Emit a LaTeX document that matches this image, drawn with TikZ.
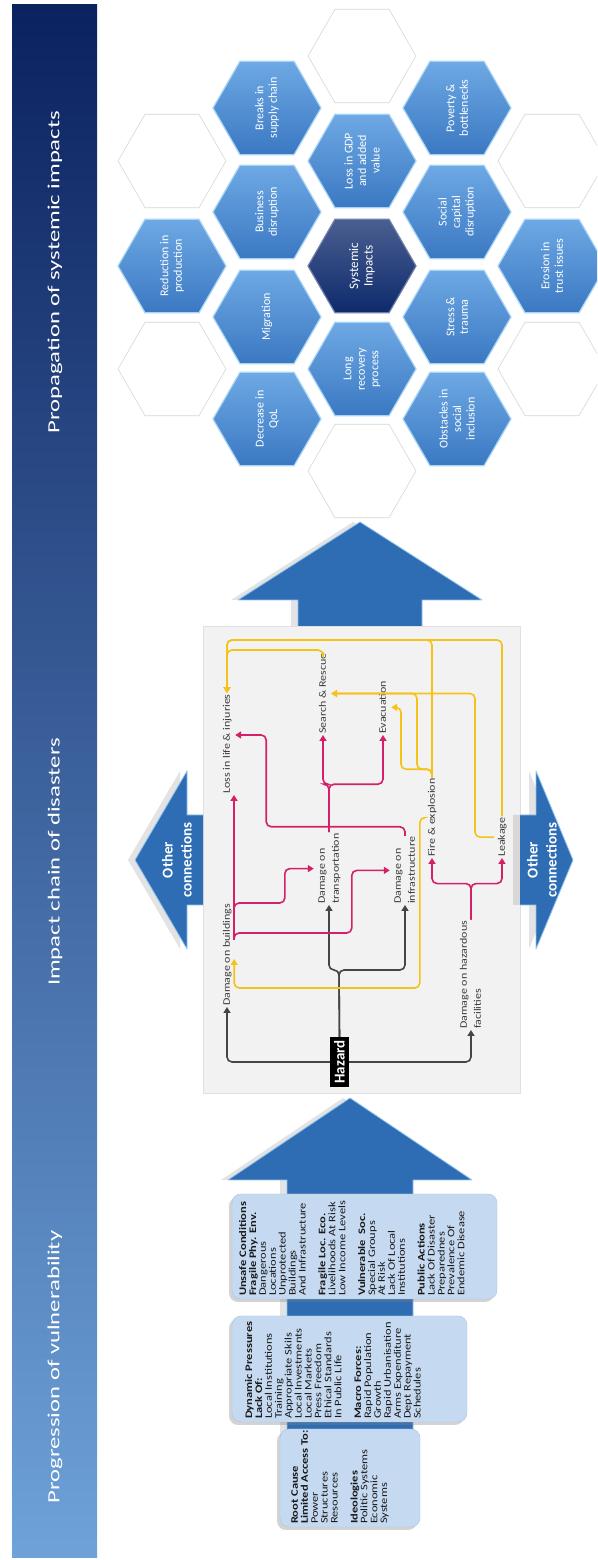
\documentclass[tikz,border=0pt]{standalone}
\usepackage{fontspec}
\usepackage{graphicx}
\setmainfont{Carlito}
\usetikzlibrary{arrows.meta,shapes.geometric,shadows}

\definecolor{bandlo}{HTML}{6EA2D9}
\definecolor{bandhi}{HTML}{0B2260}
\definecolor{arrowblue}{HTML}{2E6DB4}
\definecolor{arrowedge}{HTML}{8EC3F0}
\definecolor{boxfill}{HTML}{C5D9F1}
\definecolor{boxline}{HTML}{A9C4E4}
\definecolor{panelgray}{HTML}{F2F2F2}
\definecolor{paneledge}{HTML}{E0E0E0}
\definecolor{chaintext}{HTML}{3C3C3C}
\definecolor{hzline}{HTML}{454545}
\definecolor{pinkline}{HTML}{D61F69}
\definecolor{yellowline}{HTML}{F5C318}
\definecolor{hexhi}{HTML}{6EA9E4}
\definecolor{hexlo}{HTML}{3A78C2}
\definecolor{hexedge}{HTML}{A8D4F5}
\definecolor{hexdark}{HTML}{0E2A6C}
\definecolor{hexgrey}{HTML}{D6D6D6}

\newcommand{\widetext}[2]{\scalebox{#1}[1]{\begin{tabular}{@{}l@{}}#2\end{tabular}}}

\tikzstyle{band}=[top color=bandhi,bottom color=bandlo]
\tikzstyle{bandtext}=[text=white,font={\fontsize{17}{20}\selectfont}]
\tikzstyle{bigarrow}=[fill=arrowblue,draw=arrowedge,line width=0.8pt,line join=round,drop shadow={shadow xshift=-7pt,shadow yshift=0pt,opacity=0.22}]
\tikzstyle{othertext}=[text=white,align=center,font={\bfseries\fontsize{15}{19}\selectfont}]
\tikzstyle{vbox}=[draw=boxline,fill=boxfill,rounded corners=9pt,drop shadow={shadow xshift=-3pt,shadow yshift=-3pt,opacity=0.35}]
\tikzstyle{vtext}=[anchor=north west,inner sep=0,text=black!90,font={\fontsize{10}{9.9}\selectfont}]
\tikzstyle{panel}=[fill=panelgray,draw=paneledge,line width=0.6pt]
\tikzstyle{chain}=[inner sep=1pt,anchor=west,text=chaintext,font={\fontsize{10}{14}\selectfont}]
\tikzstyle{hazard}=[fill=black,text=white,inner sep=2pt,minimum width=50,minimum height=19,font={\bfseries\fontsize{15}{15}\selectfont}]
\tikzstyle{blk}=[draw=hzline,line width=1.6pt,rounded corners=5pt,-{Triangle[length=6pt,width=7pt]}]
\tikzstyle{pnk}=[blk,draw=pinkline]
\tikzstyle{ylw}=[blk,draw=yellowline]
\tikzstyle{hexwhite}=[regular polygon,regular polygon sides=6,shape border rotate=30,minimum size=108,inner sep=0,draw=hexgrey,line width=0.6pt,fill=white]
\tikzstyle{hexblue}=[hexwhite,draw=hexedge,line width=1.2pt,top color=hexhi,bottom color=hexlo,text=white,align=center,font={\fontsize{12}{13.5}\selectfont}]
\tikzstyle{hexcore}=[hexblue,top color=hexdark!75!white,bottom color=hexdark,draw=hexdark!60!white,font={\fontsize{13}{14.5}\selectfont}]

\begin{document}
\begin{tikzpicture}[x=1pt,y=1pt]
	\useasboundingbox (0,0) rectangle (597,1560);
	\clip (0,0) rectangle (597,1560);
	\begin{scope}[shift={(597,0)},rotate=90,transform shape]
	% title band
	\fill[band] (2,500) rectangle (1555,585);
	\node[bandtext] (hvul) at (193,542) {\scalebox{1.45}[1]{Progression of vulnerability}};
	\node[bandtext] (hchn) at (698,542) {\scalebox{1.45}[1]{Impact chain of disasters}};
	\node[bandtext] (hsys) at (1288,542) {\scalebox{1.45}[1]{Propagation of systemic impacts}};
	
	\draw[bigarrow] (40,184) -- (380,184) -- (380,125) -- (462,247) -- (380,369) -- (380,310) -- (40,310) -- cycle;
	\draw[bigarrow] (900,175) -- (960,175) -- (960,115) -- (1038,237) -- (960,359) -- (960,299) -- (900,299) -- cycle;
	
	% vulnerability
	\node[vbox,minimum width=98,minimum height=140] (root) at (82,247) {};
	\node[vtext] (roottx) at ([xshift=3,yshift=-11]root.north west) {\widetext{1.25}{\textbf{Root Cause}\\\textbf{Limited Access To:}\\Power\\Structures\\Resources\\[9.9pt]\textbf{Ideologies}\\Politic Systems\\Economic\\Systems}};
	\node[vbox,minimum width=106,minimum height=235] (dyn) at (191,247.5) {};
	\node[vtext] (dyntx) at ([xshift=3,yshift=-13]dyn.north west) {\widetext{1.25}{\textbf{Dynamic Pressures}\\\textbf{Lack Of:}\\Local Institutions\\Training\\Appropriate Skils\\Local Investments\\Local Markets\\Press Freedom\\Ethical Standards\\In Public Life\\[9.9pt]\textbf{Macro Forces:}\\Rapid Population\\Growth\\Rapid Urbanisation\\Arms Expenditure\\Dept Repayment\\Schedules}};
	\node[vbox,minimum width=105,minimum height=265] (uns) at (313.5,232.5) {};
	\node[vtext] (unstx) at ([xshift=3,yshift=-7]uns.north west) {\widetext{1.25}{\textbf{Unsafe Conditions}\\\textbf{Fragile Phy. Env.}\\Dangerous\\Locations\\Unprotected\\Buildings\\And Infrastructure\\[9.9pt]\textbf{Fragile Loc. Eco.}\\Livelihoods At Risk\\Low Income Levels\\[9.9pt]\textbf{Vulnerable\ \ Soc.}\\Special Groups\\At Risk\\Lack Of Local\\Institutions\\[9.9pt]\textbf{Public Actions}\\Lack Of Disaster\\Preparednes\\Prevalence Of\\Endemic Disease}};
	
	% impact chain
	\draw[panel] (467,77) rectangle (934,394);
	\draw[bigarrow] (655,394) -- (655,410) -- (611,410) -- (700,462) -- (789,410) -- (745,410) -- (745,394);
	\node[othertext] (othup) at (700,420) {Other\\connections};
	\draw[bigarrow] (655,77) -- (655,61) -- (611,61) -- (700,24) -- (789,61) -- (745,61) -- (745,77);
	\node[othertext] (othdn) at (700,55) {Other\\connections};
	
	\node[hazard] (hz) at (498,257.5) {Hazard};
	\node[chain] (bld) at (553,370) {\widetext{1.2}{Damage on buildings}};
	\node[chain] (loss) at (765,370) {\widetext{1.2}{Loss in life \& injuries}};
	\node[chain] (trn) at (655,268) {\widetext{1.2}{Damage on\\transportation}};
	\node[chain] (inf) at (655,192) {\widetext{1.2}{Damage on\\infrastructure}};
	\node[chain] (sar) at (825,274) {\widetext{1.2}{Search \& Rescue}};
	\node[chain] (evc) at (825,214) {\widetext{1.2}{Evacuation}};
	\node[chain] (fire) at (702,165) {\widetext{1.2}{Fire \& explosion}};
	\node[chain] (leak) at (702,95) {\widetext{1.2}{Leakage}};
	\node[chain] (hzf) at (530,126) {\widetext{1.2}{Damage on hazardous\\facilities}};
	
	\coordinate (hzbr) at (590,258);
	\draw[blk] (hz.north) |- (bld.west);
	\draw[blk] (hz.south) |- (hzf.west);
	\draw[blk] (hz.east) -- (hzbr) |- (trn.west);
	\draw[blk] (hz.east) -- (hzbr) |- (inf.west);
	
	\coordinate (pkA) at (620,363);
	\draw[pnk] (pkA) -- (pkA -| loss.west);
	\draw[pnk] (pkA) -- ++(7,0) |- ([yshift=38]inf.north) -- (inf.north);
	\draw[pnk] (pkA) -- ++(37,0) |- ([yshift=29]trn.north) -- (trn.north);
	\draw[pnk] (trn.east) -- ++(48,0) |- (sar.west);
	\draw[pnk] (trn.east) -- ++(48,0) |- (evc.west);
	\draw[pnk] (inf.east) -- ++(9,0) |- ([xshift=60,yshift=-31]loss.south west) -- ([xshift=60]loss.south west);
	\draw[pnk] (hzf.east) -- ++(36,0) |- (fire.west);
	\draw[pnk] (hzf.east) -- ++(36,0) |- (leak.west);
	
	\coordinate (yrt) at (920,370);
	\coordinate (yrs) at (910,370);
	\draw[ylw] (fire.north) -- ++(0,4) -| ([xshift=19,yshift=1]bld.south west) -- ([xshift=48,yshift=1]bld.south west);
	\draw[ylw] (leak.east) -| (yrt) -- (loss.east);
	\draw[ylw] (fire.east) -| (yrt) -- (loss.east);
	\draw[ylw] (sar.east) -| (yrs) -- (loss.east);
	\draw[ylw] (leak.north) |- (sar.south |- 0,122) -- (sar.south);
	\draw[ylw] (fire.east) -- ++(8,0) |- (sar.south |- 0,180) -- (sar.south);
	\draw[ylw] (fire.east) -- ++(8,0) |- (evc.south |- 0,196) -- (evc.south);
	
	% systemic impacts
	\node[hexwhite] (hx1) at (1504,235) {};
	\node[hexblue] (gdp) at (1399,235) {Loss in GDP\\and added\\value};
	\node[hexcore] (core) at (1294,235) {Systemic\\Impacts};
	\node[hexblue] (recov) at (1191,235) {Long\\recovery\\process};
	\node[hexwhite] (hx2) at (1089,235) {};
	\node[hexblue] (supply) at (1452,330) {Breaks in\\supply chain};
	\node[hexblue] (busi) at (1348,330) {Business\\disruption};
	\node[hexblue] (migr) at (1243,330) {Migration};
	\node[hexblue] (qol) at (1141,330) {Decrease in\\QoL};
	\node[hexblue] (pov) at (1452,140) {Poverty \&\\bottlenecks};
	\node[hexblue] (soc) at (1348,140) {Social\\capital\\disruption};
	\node[hexblue] (stress) at (1243,140) {Stress \&\\trauma};
	\node[hexblue] (incl) at (1141,140) {Obstacles in\\social\\inclusion};
	\node[hexwhite] (hx3) at (1399,425) {};
	\node[hexblue] (prod) at (1294,425) {Reduction in\\production};
	\node[hexwhite] (hx4) at (1191,425) {};
	\node[hexwhite] (hx5) at (1399,45) {};
	\node[hexblue] (trust) at (1294,45) {Erosion in\\trust issues};
	\node[hexwhite] (hx6) at (1191,45) {};
	\end{scope}
\end{tikzpicture}
\end{document}
